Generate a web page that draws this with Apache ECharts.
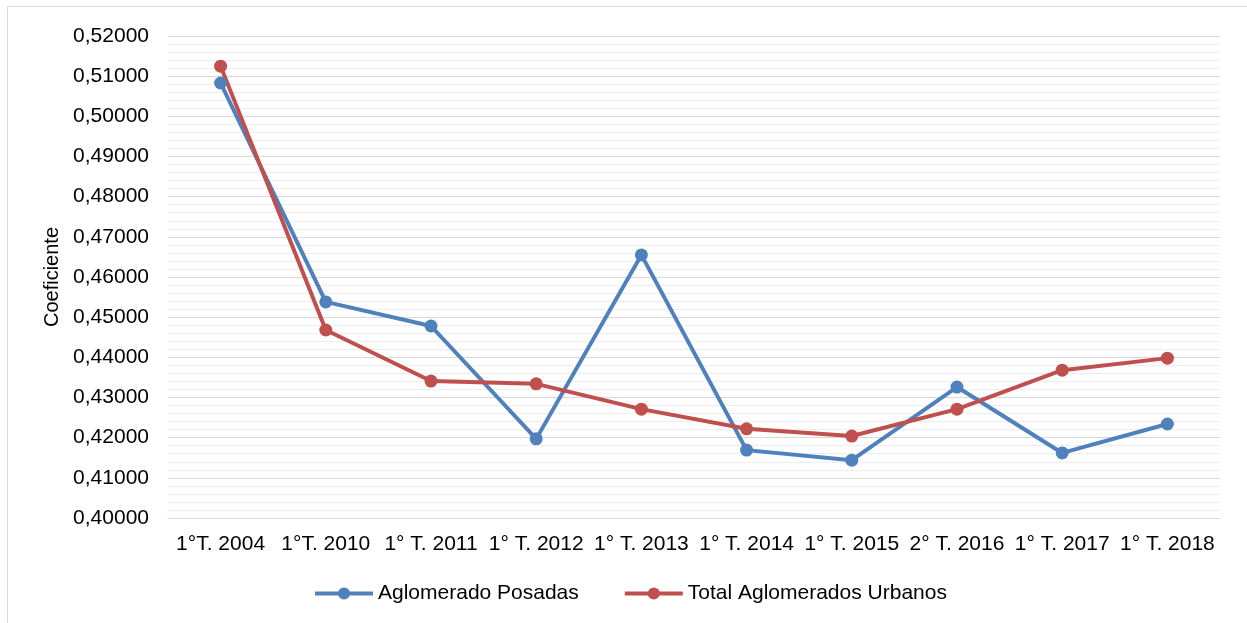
<!DOCTYPE html>
<html>
<head>
<meta charset="utf-8">
<script src="https://cdn.jsdelivr.net/npm/echarts@6/dist/echarts.min.js"></script>
<style>
    body { margin: 0; background: #fff; }
    #frame {
        position: absolute; left: 7px; top: 6px; width: 1250px; height: 630px;
        border: 1px solid #d9d9d9; box-sizing: border-box;
    }
    #chart { position: absolute; left: 0; top: 0; width: 1247px; height: 623px; }
</style>
</head>
<body>
<div id="frame"></div>
<div id="chart"></div>
<script>
let periodos = ['1°T. 2004', '1°T. 2010', '1° T. 2011', '1° T. 2012', '1° T. 2013',
    '1° T. 2014', '1° T. 2015', '2° T. 2016', '1° T. 2017', '1° T. 2018'];
let posadas = [0.5083, 0.4538, 0.4478, 0.4197, 0.4655, 0.4169, 0.4144, 0.4326, 0.4162, 0.4234];
let totalUrbanos = [0.5125, 0.4468, 0.4341, 0.4334, 0.4271, 0.4222, 0.4204, 0.4271, 0.4368, 0.4398];

let font = 'Liberation Sans, Arial, sans-serif';

let chart = echarts.init(document.getElementById('chart'));
chart.setOption({
    animation: false,
    textStyle: { fontFamily: font },
    grid: { left: 168, right: 27, top: 36, bottom: 105 },
    legend: {
        bottom: 14,
        left: 308,
        itemGap: 44,
        itemWidth: 58,
        itemHeight: 15,
        lineStyle: { width: 4 },
        textStyle: { fontSize: 21, color: '#000', fontFamily: font },
        data: ['Aglomerado Posadas', 'Total Aglomerados Urbanos']
    },
    xAxis: {
        type: 'category',
        data: periodos,
        boundaryGap: true,
        axisLine: { lineStyle: { color: '#d9d9d9' } },
        axisTick: { show: false },
        axisLabel: { color: '#000', fontSize: 21, margin: 16, interval: 0 }
    },
    yAxis: {
        type: 'value',
        min: 0.40,
        max: 0.52,
        interval: 0.01,
        name: 'Coeficiente',
        nameLocation: 'middle',
        nameGap: 102,
        nameTextStyle: { color: '#000', fontSize: 20 },
        axisLine: { show: false },
        axisTick: { show: false },
        axisLabel: {
            color: '#000', fontSize: 21, margin: 19,
            formatter: function (v) { return v.toFixed(5).replace('.', ','); }
        },
        splitLine: { lineStyle: { color: '#d9d9d9', width: 1 } },
        minorTick: { show: false, splitNumber: 5 },
        minorSplitLine: { show: true, lineStyle: { color: '#eeeeee', width: 1 } }
    },
    series: [{
        name: 'Aglomerado Posadas',
        type: 'line',
        data: posadas,
        symbol: 'circle',
        symbolSize: 13,
        lineStyle: { width: 4, color: '#4f81bd' },
        itemStyle: { color: '#4f81bd' }
    }, {
        name: 'Total Aglomerados Urbanos',
        type: 'line',
        data: totalUrbanos,
        symbol: 'circle',
        symbolSize: 13,
        lineStyle: { width: 4, color: '#c0504d' },
        itemStyle: { color: '#c0504d' }
    }]
});
</script>
</body>
</html>
